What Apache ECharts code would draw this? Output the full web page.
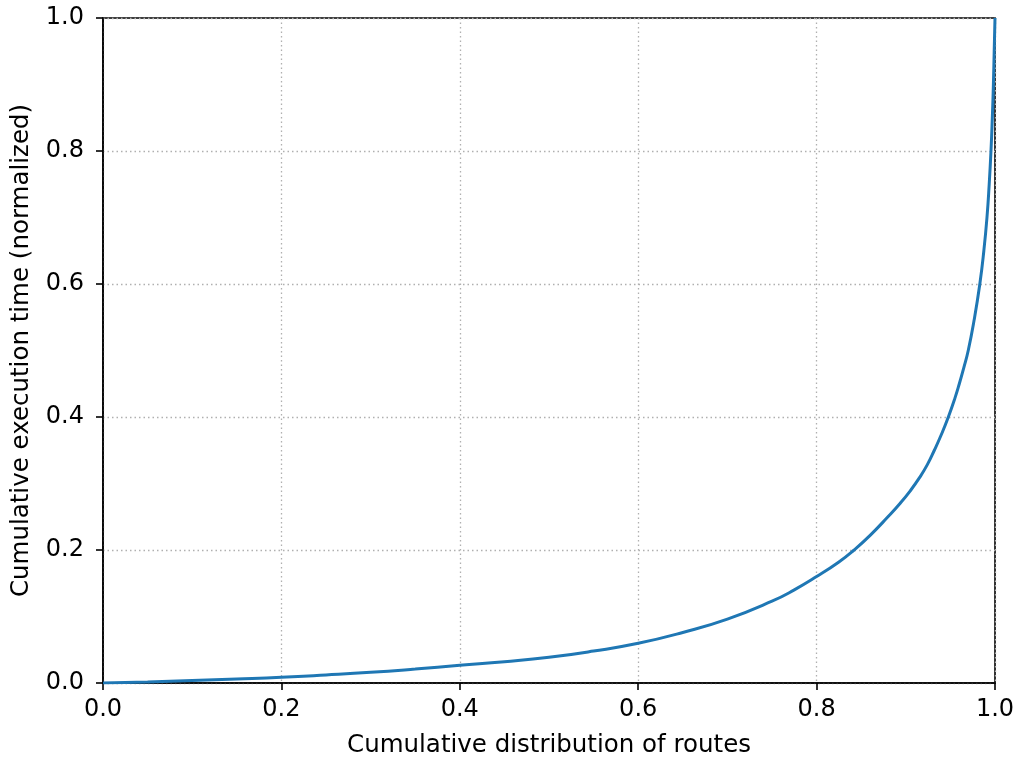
<!DOCTYPE html>
<html>
<head>
<meta charset="utf-8">
<script src="https://cdn.jsdelivr.net/npm/echarts@6/dist/echarts.min.js"></script>
<style>html,body{margin:0;padding:0;background:#fff}#c{width:1019px;height:759px}</style>
</head>
<body>
<div id="c"></div>
<script>
const routesX = [0, 0.05, 0.1, 0.15, 0.2, 0.25, 0.3, 0.35, 0.4, 0.45, 0.5, 0.55, 0.6, 0.65, 0.7, 0.75, 0.775, 0.8, 0.825, 0.842, 0.86, 0.88, 0.8935, 0.905, 0.915, 0.924, 0.932, 0.94, 0.9477, 0.955, 0.960, 0.965, 0.970, 0.9765, 0.983, 0.9875, 0.991, 0.9935, 0.9955, 0.997, 0.9982, 0.9991, 1.0];
const timeY  = [0, 0.0015, 0.0038, 0.006, 0.0085, 0.012, 0.016, 0.021, 0.0266, 0.032, 0.0386, 0.048, 0.0597, 0.076, 0.096, 0.123, 0.140, 0.160, 0.182, 0.200, 0.222, 0.250, 0.270, 0.289, 0.308, 0.328, 0.350, 0.374, 0.400, 0.428, 0.450, 0.474, 0.500, 0.545, 0.600, 0.650, 0.700, 0.750, 0.800, 0.850, 0.900, 0.950, 1.0];
const xTitle = 'Cumulative distribution of routes';
const yTitle = 'Cumulative execution time (normalized)';

const chart = echarts.init(document.getElementById('c'), null, {renderer: 'canvas'});
const font = 'DejaVu Sans';
const axisCommon = {
  type: 'value', min: 0, max: 1, interval: 0.2,
  axisLine: {show: true, lineStyle: {color: '#000', width: 1.6}},
  axisTick: {show: true, inside: false, length: 7, lineStyle: {color: '#000', width: 1.6}},
  axisLabel: {fontFamily: font, fontSize: 24, color: '#000', formatter: v => v.toFixed(1)},
  splitLine: {show: true, lineStyle: {color: '#b0b0b0', type: [1.5, 3], width: 1.3}},
  nameLocation: 'middle',
  nameTextStyle: {fontFamily: font, fontSize: 24.5, color: '#000'}
};
chart.setOption({
  animation: false,
  backgroundColor: '#fff',
  grid: {left: 103, right: 24, top: 18, bottom: 76, outerBoundsMode: 'none', show: true, borderColor: '#000', borderWidth: 1.6, backgroundColor: 'transparent'},
  xAxis: Object.assign({}, axisCommon, {name: xTitle, nameGap: 50, axisLabel: Object.assign({}, axisCommon.axisLabel, {margin: 15})}),
  yAxis: Object.assign({}, axisCommon, {name: yTitle, nameGap: 69, axisLabel: Object.assign({}, axisCommon.axisLabel, {margin: 19})}),
  series: [{
    type: 'line',
    data: routesX.map((x, i) => [x, timeY[i]]),
    showSymbol: false,
    smooth: 0.5,
    lineStyle: {color: '#1f77b4', width: 3},
    clip: true
  }]
});
</script>
</body>
</html>
